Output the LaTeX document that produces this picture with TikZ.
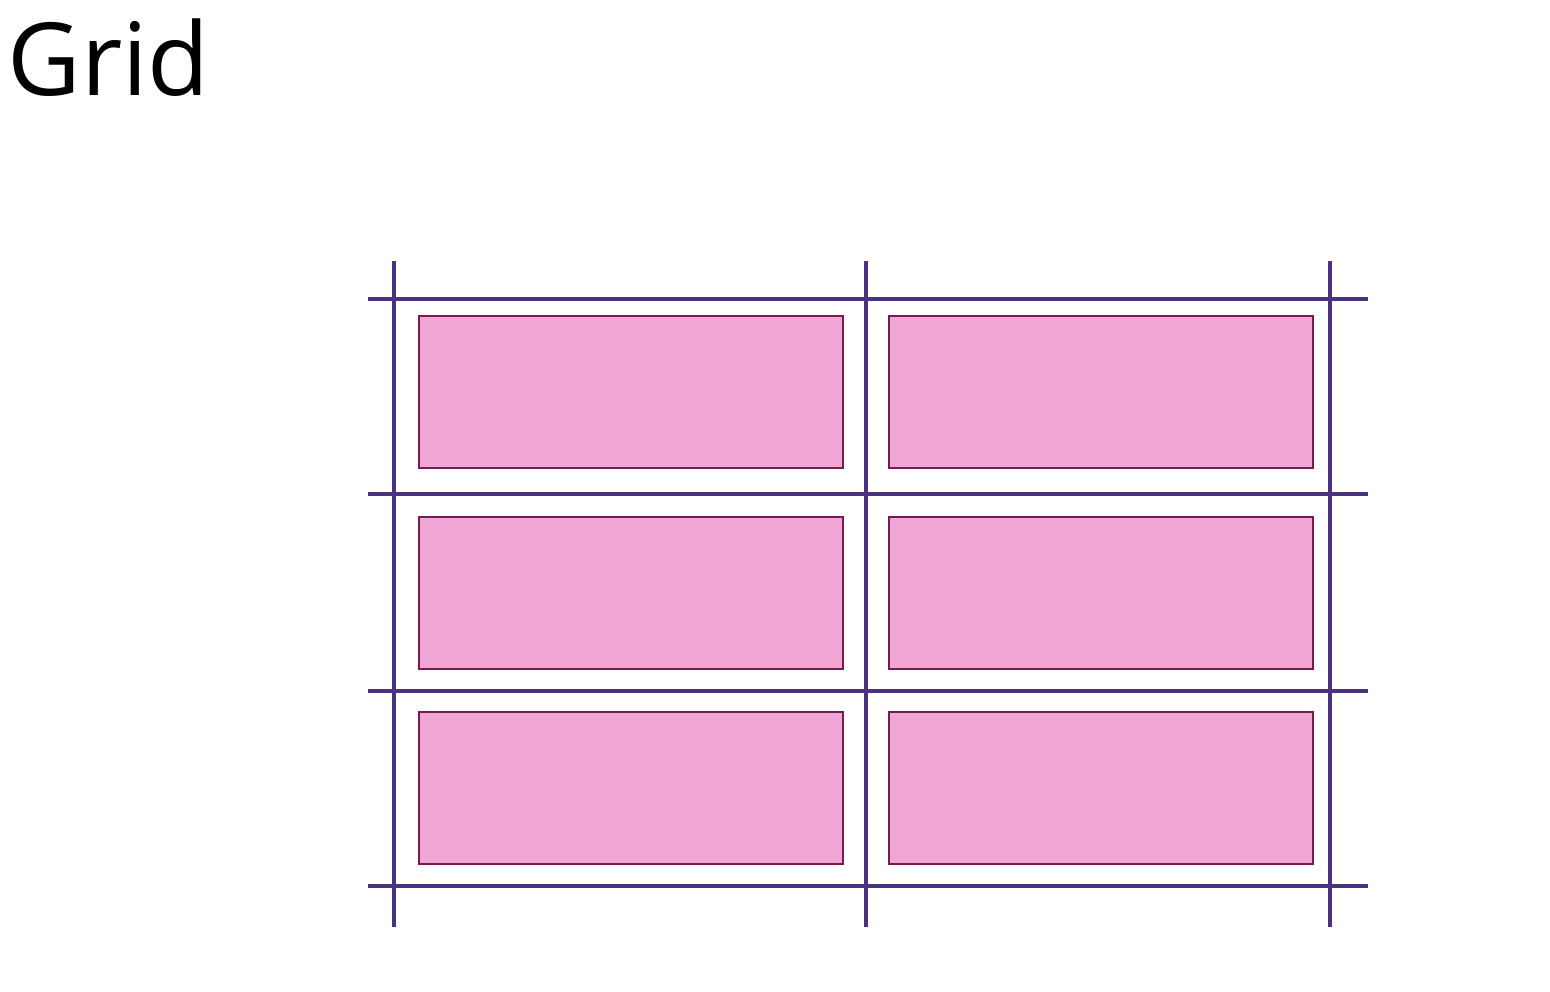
\documentclass[tikz,border=0pt]{standalone}
\usepackage{fontspec}
\setmainfont{Open Sans}
\definecolor{gridline}{HTML}{4A3183}
\definecolor{cellfill}{HTML}{F0A7D5}
\definecolor{cellborder}{HTML}{7A1852}
\begin{document}
\begin{tikzpicture}[x=1pt,y=-1pt,
  gline/.style={draw=gridline,line width=4pt},
  cell/.style={draw=cellborder,fill=cellfill,line width=2pt}]
\useasboundingbox (0,0) rectangle (1550,992);
\node[anchor=base west,inner sep=0pt,font=\fontsize{101}{110}\selectfont] (title) at (7.5,96) {Grid};
% cells
\foreach \n/\xa/\ya/\xb/\yb in {c11/419/316/843/468, c12/889/316/1313/468,
  c21/419/517/843/669, c22/889/517/1313/669,
  c31/419/712/843/864, c32/889/712/1313/864}
  \draw[cell] (\xa,\ya) rectangle (\xb,\yb);
% horizontal grid lines
\foreach \y [count=\i] in {299,494,691,886}{
  \coordinate (hl\i) at (368,\y);
  \coordinate (hr\i) at (1368,\y);
  \draw[gline] (hl\i) -- (hr\i);
}
% vertical grid lines
\foreach \x [count=\i] in {394,866,1330}{
  \coordinate (vt\i) at (\x,261);
  \coordinate (vb\i) at (\x,927);
  \draw[gline] (vt\i) -- (vb\i);
}
\end{tikzpicture}
\end{document}
